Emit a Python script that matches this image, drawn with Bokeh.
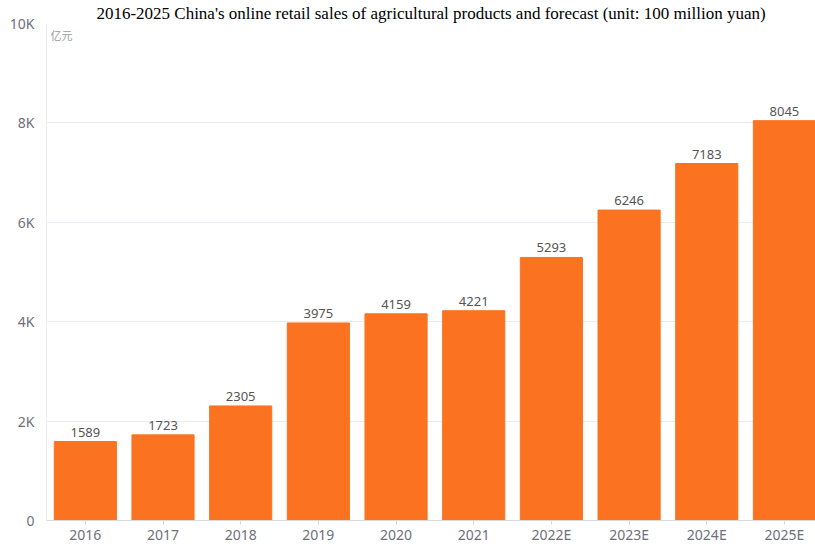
from bokeh.plotting import figure
from bokeh.models import ColumnDataSource, FixedTicker, Range1d, Label, LabelSet
from bokeh.core.properties import value
from bokeh.embed import file_html
from bokeh.resources import INLINE

title_text = "2016-2025 China's online retail sales of agricultural products and forecast (unit: 100 million yuan)"
unit_name = "亿元"
years = ["2016", "2017", "2018", "2019", "2020", "2021", "2022E", "2023E", "2024E", "2025E"]
sales = [1589, 1723, 2305, 3975, 4159, 4221, 5293, 6246, 7183, 8045]
y_ticks = [0, 2000, 4000, 6000, 8000, 10000]
y_tick_labels = ["0", "2K", "4K", "6K", "8K", "10K"]

pos = list(range(len(years)))
src = ColumnDataSource(dict(x=pos, top=sales, label=[str(v) for v in sales]))

p = figure(width=815, height=546, output_backend="svg", toolbar_location=None,
           x_range=Range1d(-0.5, len(years) - 0.6), y_range=Range1d(0, 10000),
           min_border_left=46, min_border_right=0, min_border_top=22, min_border_bottom=18)
p.outline_line_color = None
p.background_fill_color = "white"
p.border_fill_color = "white"

p.title.text = title_text
p.title.text_font = "Liberation Serif"
p.title.text_font_size = "17px"
p.title.text_font_style = "normal"
p.title.text_color = "black"
p.title.align = "center"
p.title.standoff = 2
p.title.offset = 20

p.vbar(x="x", top="top", width=0.8, source=src, color="#fb7320")

labels = LabelSet(x="x", y="top", text="label", source=src, y_offset=5,
                  text_align="center", text_baseline="bottom",
                  text_font=value("Noto Sans"), text_font_size=value("13px"),
                  text_color="#555555")
p.add_layout(labels)

p.xgrid.grid_line_color = None
p.ygrid.grid_line_color = "#e9ecf2"
p.ygrid.ticker = FixedTicker(ticks=y_ticks)

p.yaxis.ticker = FixedTicker(ticks=y_ticks)
p.yaxis.major_label_overrides = {t: l for t, l in zip(y_ticks, y_tick_labels)}
p.yaxis.axis_line_color = "#ececec"
p.yaxis.major_tick_line_color = None
p.yaxis.minor_tick_line_color = None
p.yaxis.major_label_text_color = "#6e7079"
p.yaxis.major_label_text_font = "Noto Sans"
p.yaxis.major_label_text_font_size = "14px"
p.yaxis.major_label_standoff = 6

p.xaxis.ticker = FixedTicker(ticks=pos)
p.xaxis.major_label_overrides = {i: y for i, y in zip(pos, years)}
p.xaxis.axis_line_color = "#d9d9d9"
p.xaxis.major_tick_line_color = "#d9d9d9"
p.xaxis.major_tick_in = 0
p.xaxis.major_tick_out = 4
p.xaxis.minor_tick_line_color = None
p.xaxis.major_label_text_color = "#6e7079"
p.xaxis.major_label_text_font = "Noto Sans"
p.xaxis.major_label_text_font_size = "14px"
p.xaxis.major_label_text_line_height = 1.0
p.xaxis.major_label_standoff = 0

unit = Label(x=-0.5, y=10000, x_offset=4, y_offset=-3, text=unit_name,
             text_font="Noto Sans CJK SC", text_font_size="11px",
             text_color="#9a9ca3", text_baseline="top", text_align="left")
p.add_layout(unit)

open("out.html", "w").write(file_html(p, INLINE))
